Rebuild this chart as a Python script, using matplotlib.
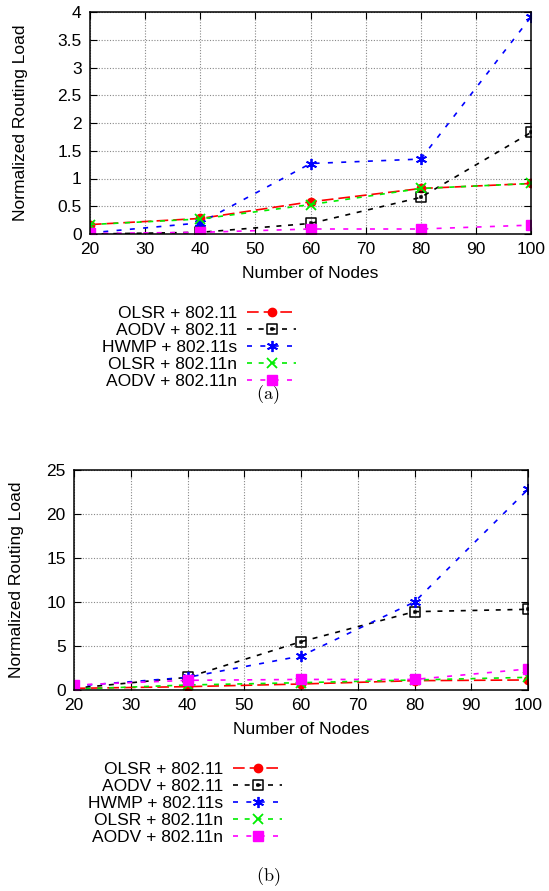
import matplotlib
matplotlib.use("Agg")
import matplotlib.pyplot as plt
from matplotlib.path import Path
from matplotlib.ticker import MultipleLocator

plt.rcParams['font.family'] = ['Liberation Sans', 'DejaVu Sans']
plt.rcParams['mathtext.fontset'] = 'cm'

nodes = [20, 40, 60, 80, 100]
labels = ["OLSR + 802.11", "AODV + 802.11", "HWMP + 802.11s",
          "OLSR + 802.11n", "AODV + 802.11n"]

# panel (a)
olsr_a = [0.17, 0.28, 0.58, 0.82, 0.91]
aodv_a = [0.00, 0.03, 0.19, 0.66, 1.83]
hwmp_a = [0.02, 0.20, 1.27, 1.35, 3.91]
olsrn_a = [0.17, 0.27, 0.53, 0.82, 0.91]
aodvn_a = [0.01, 0.03, 0.09, 0.09, 0.16]

# panel (b)
olsr_b = [0.19, 0.38, 0.68, 1.06, 1.14]
aodv_b = [0.20, 1.44, 5.49, 8.90, 9.17]
hwmp_b = [0.45, 1.44, 3.86, 10.0, 22.8]
olsrn_b = [0.10, 0.57, 0.83, 1.14, 1.44]
aodvn_b = [0.57, 1.10, 1.20, 1.20, 2.39]

# open square with a dot in the middle (gnuplot style)
sq = Path([(-1, -1), (1, -1), (1, 1), (-1, 1), (-1, -1)],
          [Path.MOVETO, Path.LINETO, Path.LINETO, Path.LINETO, Path.CLOSEPOLY])
dot = Path([(-0.12, -0.12), (0.12, -0.12), (0.12, 0.12), (-0.12, 0.12), (-0.12, -0.12)],
           [Path.MOVETO, Path.LINETO, Path.LINETO, Path.LINETO, Path.CLOSEPOLY])
sqdot = Path.make_compound_path(sq, dot)

styles = [
    dict(color="#ff0000", marker="o", ms=6, dashes=(7, 3)),
    dict(color="#000000", marker=sqdot, ms=7, mfc="none", mew=1.1, dashes=(3, 4)),
    dict(color="#0000ff", marker=(6, 2, 0), ms=8, mew=1.3, dashes=(3, 5)),
    dict(color="#00ee00", marker="x", ms=7, mew=1.3, dashes=(3, 4)),
    dict(color="#ff00ff", marker="s", ms=7, dashes=(3, 5)),
]

fig = plt.figure(figsize=(5.49, 8.91), dpi=100)
W, H = 549.0, 891.0


def panel(rect, series, ymax, ystep, leg_xy, cap_y, cap, ypad):
    ax = fig.add_axes(rect)
    handles = []
    for vals, st, lab in zip(series, styles, labels):
        h, = ax.plot(nodes, vals, lw=1.2, label=lab, **st)
        handles.append(h)
    ax.set_xlim(20, 100)
    ax.set_ylim(0, ymax)
    ax.xaxis.set_major_locator(MultipleLocator(10))
    ax.yaxis.set_major_locator(MultipleLocator(ystep))
    ax.yaxis.set_major_formatter(plt.FuncFormatter(lambda v, p: f"{v:g}"))
    ax.grid(True, color="#888888", linestyle=(0, (1, 1.5)), lw=0.8)
    ax.tick_params(direction="in", top=True, right=True, length=5,
                   labelsize=12.5, pad=6)
    for s in ax.spines.values():
        s.set_linewidth(1.1)
    ax.set_xlabel("Number of Nodes", fontsize=12.5, labelpad=6)
    ax.set_ylabel("Normalized Routing Load", fontsize=12.5, labelpad=ypad)
    fig.legend(handles=handles, loc="upper right",
               bbox_to_anchor=(leg_xy[0] / W, 1 - leg_xy[1] / H),
               frameon=False, markerfirst=False, fontsize=12.5,
               handlelength=2.8, handletextpad=0.6, labelspacing=0.1,
               borderpad=0, borderaxespad=0)
    fig.text(268 / W, 1 - cap_y / H, r"$\mathrm{(" + cap + ")}$",
             ha="center", va="center", fontsize=13)
    return ax


panel([90 / W, 1 - 234 / H, 441 / W, 222 / H],
      [olsr_a, aodv_a, hwmp_a, olsrn_a, aodvn_a], 4, 0.5,
      (296, 306), 395, "a", 21)
panel([74 / W, 1 - 690 / H, 454 / W, 220 / H],
      [olsr_b, aodv_b, hwmp_b, olsrn_b, aodvn_b], 25, 5,
      (282, 762), 877, "b", 16)

fig.savefig("out.png", dpi=100)
